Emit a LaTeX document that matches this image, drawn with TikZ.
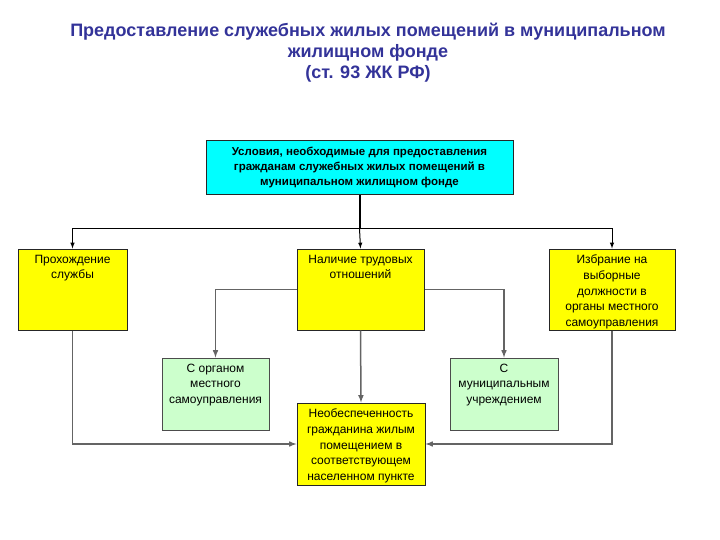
\documentclass[tikz,border=0pt]{standalone}
\usepackage{fontspec}
\setmainfont{Liberation Sans}
\usepackage{xcolor}
\usepackage{tikz}
\usetikzlibrary{positioning}

\definecolor{titleblue}{RGB}{51,51,153}
\definecolor{boxcyan}{RGB}{0,255,255}
\definecolor{boxyellow}{RGB}{255,255,0}
\definecolor{lightgreen}{RGB}{204,255,204}
\definecolor{linegray}{RGB}{100,100,100}

% text of a box, set from its top edge
\newcommand{\boxtxt}[3]{\parbox[c][#2][t]{#1}{\centering\vspace*{6pt}#3}}

\begin{document}
\begin{tikzpicture}[>=latex, x=1pt, y=-1pt,
    box/.style={draw=black!85, line width=1pt, inner sep=0pt,
        font=\fontsize{12}{15.6}\selectfont},
    topbox/.style={box, fill=boxcyan, font=\bfseries\fontsize{11.5}{15}\selectfont},
    yellowbox/.style={box, fill=boxyellow},
    greenbox/.style={box, fill=lightgreen, draw=black!70},
    link/.style={->, draw=linegray, line width=1.5pt}]
    \useasboundingbox (0,0) rectangle (720,540);

    % 1. Заголовок
    \node[align=center, text=titleblue, font=\bfseries\fontsize{18}{21}\selectfont]
        (title) at (368,53) {Предоставление служебных жилых помещений в муниципальном\\
        жилищном фонде\\(ст. 93 ЖК РФ)};

    % 2. Блоки
    \node[topbox] (usl) at (359.5,168) {\boxtxt{307pt}{54pt}{Условия, необходимые для предоставления\\
        гражданам служебных жилых помещений в\\муниципальном жилищном фонде}};

    \node[yellowbox] (sluzhba) at (72.5,289.5) {\boxtxt{109pt}{81pt}{Прохождение\\службы}};
    \node[yellowbox] (trud) at (360.5,289.5) {\boxtxt{127pt}{81pt}{Наличие трудовых\\отношений}};
    \node[yellowbox] (izbr) at (612,289.5) {\boxtxt{126pt}{81pt}{Избрание на\\выборные\\должности в\\органы местного\\самоуправления}};

    \node[greenbox] (organ) at (215.5,394) {\boxtxt{107pt}{72pt}{С органом\\местного\\самоуправления}};
    \node[greenbox] (uchr) at (504,394) {\boxtxt{108pt}{72pt}{С\\муниципальным\\учреждением}};

    \node[yellowbox] (neobesp) at (361,444) {\boxtxt{128pt}{82pt}{Необеспеченность\\гражданина жилым\\помещением в\\соответствующем\\населенном пункте}};

    % 3. Связи от верхнего блока
    \draw[black, line width=2pt] (usl.south) -- ++(0,33) coordinate (fork);
    \draw[black, line width=1.3pt] (fork -| sluzhba.north) -- (fork -| izbr.north);
    \draw[->, black, line width=1pt] (fork -| sluzhba.north) -- (sluzhba.north);
    \draw[->, black, line width=1pt] (fork) -- (trud.north);
    \draw[->, black, line width=1pt] (fork -| izbr.north) -- (izbr.north);

    % 4. Нижние связи
    \draw[link] (trud.west) -| (organ.north);
    \draw[link] (trud.east) -| (uchr.north);
    \draw[link] (trud.south) -- (neobesp.north);
    \draw[link] (sluzhba.south) |- (neobesp.west);
    \draw[link] (izbr.south) |- (neobesp.east);

\end{tikzpicture}
\end{document}
